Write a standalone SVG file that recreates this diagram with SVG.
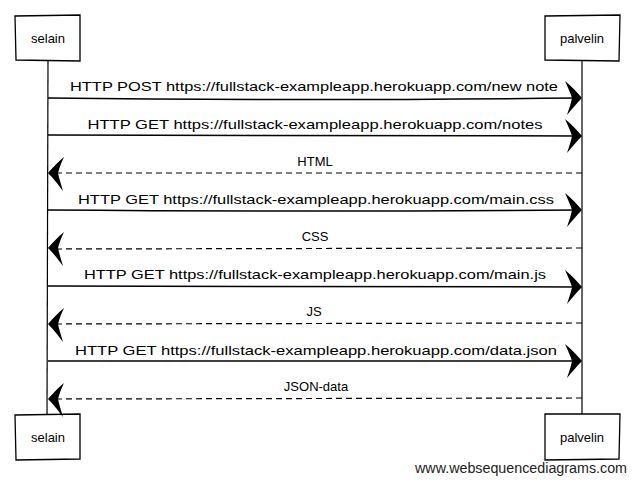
<svg xmlns="http://www.w3.org/2000/svg" width="635" height="483" viewBox="0 0 635 483">
<defs>
<style>
.box{fill:#fff;stroke:#000;stroke-width:1.3}
.life{stroke:#000;stroke-width:1.2;fill:none}
.msg{stroke:#000;stroke-width:1.5;fill:none}
.ret{stroke:#000;stroke-width:1.2;fill:none;stroke-dasharray:6 4}
.head{fill:#000;stroke:none}
.lbl{font-family:"Liberation Sans",Arial,sans-serif;font-size:13px;fill:#000;text-anchor:middle}
.pl{font-family:"Liberation Sans",Arial,sans-serif;font-size:13px;fill:#000;text-anchor:middle}
.wm{font-family:"Liberation Sans",Arial,sans-serif;font-size:14px;fill:#222}
</style>
<path id="rh" d="M0,0 C-5,-6 -10,-11 -17,-17 C-14,-10 -11,-4 -10,0 C-11,5 -13,11 -15,17 C-9,10 -5,5 0,0 Z"/>
<path id="lh" d="M0,0 C5,-6 10,-11 16,-16 C13,-10 11,-4 10,0 C11,5 13,11 15,18 C9,10 5,5 0,0 Z"/>
</defs>
<rect width="635" height="483" fill="#fff"/>
<g id="lifelines">
<path class="life" d="M48,61 L47,414"/>
<path class="life" d="M582,61 L582,414"/>
</g>
<g id="selain-top"><path class="box" d="M15,16 L80,15 L80,61 L16,60 Z"/><text class="pl" x="48" y="43">selain</text></g>
<g id="palvelin-top"><path class="box" d="M545,16 L620,15 L619,61 L545,60 Z"/><text class="pl" x="582" y="43">palvelin</text></g>
<g id="selain-bottom"><path class="box" d="M15,415 L80,414 L80,459 L16,460 Z"/><text class="pl" x="48" y="442">selain</text></g>
<g id="palvelin-bottom"><path class="box" d="M545,414 L620,414 L619,459 L545,460 Z"/><text class="pl" x="582" y="442">palvelin</text></g>
<g id="connectors">
<path class="msg" d="M48,98 Q300,101 580,98"/>
<use href="#rh" class="head" transform="translate(582,98)"/>
<text class="lbl" x="314" y="91" textLength="488" lengthAdjust="spacingAndGlyphs">HTTP POST https://fullstack-exampleapp.herokuapp.com/new note</text>

<path class="msg" d="M48,135 Q300,135 580,136"/>
<use href="#rh" class="head" transform="translate(582,136)"/>
<text class="lbl" x="315" y="129" textLength="455" lengthAdjust="spacingAndGlyphs">HTTP GET https://fullstack-exampleapp.herokuapp.com/notes</text>

<path class="ret" d="M582,173 L50,173"/>
<use href="#lh" class="head" transform="translate(48,173)"/>
<text class="lbl" x="315" y="166">HTML</text>

<path class="msg" d="M48,210 Q300,212 580,210"/>
<use href="#rh" class="head" transform="translate(582,210)"/>
<text class="lbl" x="316" y="204" textLength="476" lengthAdjust="spacingAndGlyphs">HTTP GET https://fullstack-exampleapp.herokuapp.com/main.css</text>

<path class="ret" d="M582,248 L50,249"/>
<use href="#lh" class="head" transform="translate(48,248)"/>
<text class="lbl" x="315" y="241">CSS</text>

<path class="msg" d="M48,286 Q300,287 580,287"/>
<use href="#rh" class="head" transform="translate(582,287)"/>
<text class="lbl" x="315" y="279" textLength="462" lengthAdjust="spacingAndGlyphs">HTTP GET https://fullstack-exampleapp.herokuapp.com/main.js</text>

<path class="ret" d="M582,323 L50,324"/>
<use href="#lh" class="head" transform="translate(48,324)"/>
<text class="lbl" x="314" y="316">JS</text>

<path class="msg" d="M48,361 Q300,362 580,361"/>
<use href="#rh" class="head" transform="translate(582,361)"/>
<text class="lbl" x="316" y="355" textLength="482" lengthAdjust="spacingAndGlyphs">HTTP GET https://fullstack-exampleapp.herokuapp.com/data.json</text>

<path class="ret" d="M582,398 L50,399"/>
<use href="#lh" class="head" transform="translate(48,399)"/>
<text class="lbl" x="316" y="391">JSON-data</text>
</g>
<text class="wm" x="415" y="473" textLength="212" lengthAdjust="spacingAndGlyphs">www.websequencediagrams.com</text>
</svg>
